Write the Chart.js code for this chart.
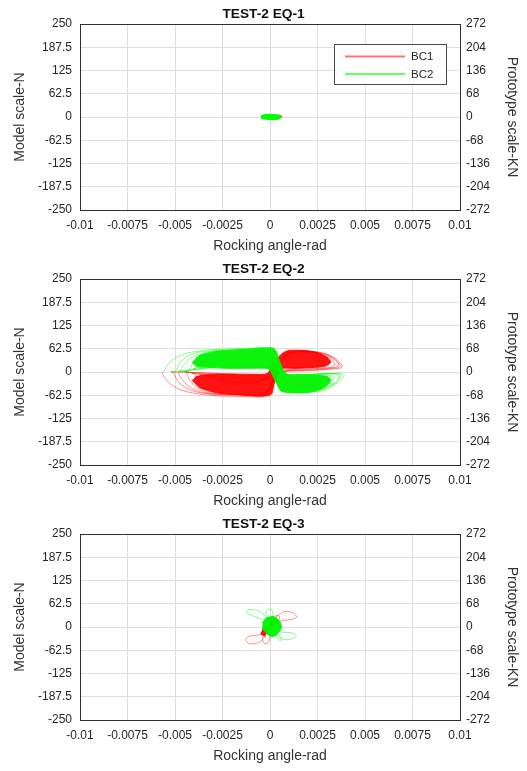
<!DOCTYPE html>
<html>
<head>
<meta charset="utf-8">
<script src="https://cdn.jsdelivr.net/npm/chart.js@4.4.1/dist/chart.umd.min.js"></script>
<style>
  html,body{margin:0;padding:0;background:#fff;}
  #wrap{position:relative;width:527px;height:771px;}
  #wrap canvas{position:absolute;left:0;}
</style>
</head>
<body>
<div id="wrap">
  <canvas id="eq1" width="527" height="255" style="top:0px"></canvas>
  <canvas id="eq2" width="527" height="255" style="top:255px"></canvas>
  <canvas id="eq3" width="527" height="255" style="top:510px"></canvas>
</div>
<script>
// ticks (rocking angle in rad, force in N / KN)
const xTicks = [-0.01, -0.0075, -0.005, -0.0025, 0, 0.0025, 0.005, 0.0075, 0.01];
const xTickLabels = ['-0.01', '-0.0075', '-0.005', '-0.0025', '0', '0.0025', '0.005', '0.0075', '0.01'];
const modelTicks = [-250, -187.5, -125, -62.5, 0, 62.5, 125, 187.5, 250];
const modelTickLabels = ['-250', '-187.5', '-125', '-62.5', '0', '62.5', '125', '187.5', '250'];
const protoTicks = [-272, -204, -136, -68, 0, 68, 136, 204, 272];
const protoTickLabels = ['-272', '-204', '-136', '-68', '0', '68', '136', '204', '272'];
const panelTitles = ['TEST-2 EQ-1', 'TEST-2 EQ-2', 'TEST-2 EQ-3'];
const seriesNames = ['BC1', 'BC2'];

// EQ-1 : tiny loops near the origin
const eq1Bc1 = [[-0.0003,-2],[0.0001,-4],[0.0005,-2],[0.0006,2],[0.0003,4],[-0.0001,2],[-0.0004,0],[0,-3],[0.0004,-3],[0.00058,0],[0.0002,3],[-0.0003,1]];
const eq1Bc2 = [[-0.00045,0],[-0.0003,3],[0,4],[0.0003,3],[0.0005,1],[0.0004,-3],[0.0001,-4],[-0.0002,-3],[-0.0004,-1],[-0.0002,2],[0.0002,3],[0.00048,-1],[0.0002,-3],[-0.0003,-2],[-0.00045,0]];

// EQ-2 : BC1 cycles (one continuous trace) and its dense band
const eq2Bc1Loops = [
  [-0.0057,0],[-0.0054,-25],[-0.0047,-48],[-0.0036,-60],[-0.0022,-65],[-0.0010,-66],[-0.0003,-64],[0.0001,-30],[0.0004,15],[0.0008,48],[0.0016,57],[0.0027,52],[0.0034,38],[0.0038,14],[0.0033,8],[0.0022,4],[0.0010,2],[0.0003,-5],[-0.0003,-18],[-0.0012,-12],[-0.0026,-4],[-0.0042,-1],[-0.0052,0],
  [-0.0051,0],[-0.0048,-28],[-0.0041,-50],[-0.0030,-60],[-0.0018,-62],[-0.0007,-64],[-0.0002,-58],[0.0002,-18],[0.0005,28],[0.0010,52],[0.0018,56],[0.0028,50],[0.0034,34],[0.0037,15],[0.0031,9],[0.0020,5],[0.0009,3],[0.0002,-8],[-0.0004,-22],[-0.0014,-16],[-0.0028,-6],[-0.0042,-1],[-0.0048,0],
  [-0.0044,-33],[-0.0036,-54],[-0.0024,-60],[-0.0012,-62],[-0.0004,-66],[0.0000,-42],[0.0003,0],[0.0007,38],[0.0012,54],[0.0021,55],[0.0030,46],[0.0035,30],[0.0036,16],[0.0029,10],[0.0018,6],[0.0008,2],[0.0001,-10],[-0.0005,-24],[-0.0016,-20],[-0.0030,-8],[-0.0042,-2],
  [-0.0044,-1],[-0.0040,-36],[-0.0032,-56],[-0.0020,-60],[-0.0009,-62],[-0.0002,-60],[0.0002,-20],[0.0005,20],[0.0009,46],[0.0015,55],[0.0024,52],[0.0031,40],[0.0034,24],[0.0033,14],[0.0026,10],[0.0016,8],[0.0007,4],[0.0000,-12],[-0.0006,-26],[-0.0018,-24],[-0.0032,-10],[-0.0041,-4],
  [-0.0040,-3],[-0.0036,-38],[-0.0028,-56],[-0.0017,-60],[-0.0007,-62],[-0.0001,-52],[0.0003,-8],[0.0006,30],[0.0011,50],[0.0018,54],[0.0026,48],[0.0030,34],[0.0031,20],[0.0027,14],[0.0017,11],[0.0008,6],[0.0001,-8],[-0.0005,-26],[-0.0016,-28],[-0.0028,-18],[-0.0037,-8],
  [-0.0036,-6],[-0.0032,-40],[-0.0024,-57],[-0.0013,-60],[-0.0005,-63],[0.0000,-38],[0.0004,8],[0.0008,40],[0.0013,52],[0.0020,52],[0.0026,40],[0.0028,24],[0.0024,16],[0.0014,12],[0.0006,8],[-0.0001,-8],[-0.0008,-28],[-0.0020,-26],[-0.0031,-14],[-0.0036,-6]
];
const eq2Bc1Core = [[-0.0041,-22],[-0.0037,-42],[-0.0028,-56],[-0.0016,-61],[-0.0006,-64],[-0.0001,-64],[0.0001,-58],[0.0002,-35],[0.0004,-10],[0.0006,10],[0.0014,10],[0.0022,12],[0.0029,16],[0.0032,26],[0.0030,40],[0.0025,52],[0.0018,58],[0.0010,58],[0.0007,52],[0.0004,38],[0.0001,15],[-0.0001,-2],[-0.0003,-6],[-0.0012,-6],[-0.0022,-5],[-0.0032,-6],[-0.0039,-12]];

// EQ-2 : BC2 cycles and dense band
const eq2Bc2Loops = [
  [-0.0056,0],[-0.0053,25],[-0.0046,47],[-0.0035,58],[-0.0022,62],[-0.0010,64],[-0.0002,63],[0.0003,30],[0.0007,-20],[0.0011,-50],[0.0020,-55],[0.0030,-45],[0.0036,-27],[0.0039,-8],[0.0034,-4],[0.0022,-6],[0.0011,-9],[0.0005,5],[-0.0001,24],[-0.0012,22],[-0.0026,14],[-0.0042,5],[-0.0052,1],
  [-0.0050,0],[-0.0047,28],[-0.0040,50],[-0.0030,58],[-0.0018,60],[-0.0006,62],[0.0000,58],[0.0004,20],[0.0008,-30],[0.0013,-52],[0.0022,-52],[0.0031,-40],[0.0036,-22],[0.0037,-7],[0.0031,-4],[0.0020,-7],[0.0010,-8],[0.0004,8],[-0.0003,28],[-0.0014,26],[-0.0028,16],[-0.0040,6],[-0.0047,2],
  [-0.0043,32],[-0.0035,52],[-0.0024,58],[-0.0012,61],[-0.0003,65],[0.0002,45],[0.0005,5],[0.0009,-38],[0.0014,-54],[0.0023,-50],[0.0032,-36],[0.0036,-18],[0.0036,-6],[0.0029,-5],[0.0018,-8],[0.0009,-6],[0.0003,12],[-0.0004,30],[-0.0016,29],[-0.0030,18],[-0.0041,8],[-0.0045,3],
  [-0.0043,3],[-0.0039,35],[-0.0031,53],[-0.0020,57],[-0.0009,60],[-0.0001,63],[0.0003,35],[0.0006,-8],[0.0010,-42],[0.0016,-53],[0.0025,-48],[0.0031,-33],[0.0034,-16],[0.0033,-7],[0.0026,-6],[0.0016,-9],[0.0008,-4],[0.0002,15],[-0.0005,32],[-0.0018,30],[-0.0031,20],[-0.0040,10],
  [-0.0040,6],[-0.0036,38],[-0.0028,54],[-0.0017,58],[-0.0007,61],[0.0000,60],[0.0004,22],[0.0007,-22],[0.0011,-46],[0.0018,-52],[0.0026,-44],[0.0031,-28],[0.0032,-12],[0.0028,-8],[0.0018,-10],[0.0009,-7],[0.0003,10],[-0.0003,30],[-0.0015,32],[-0.0027,24],[-0.0037,14],
  [-0.0036,10],[-0.0032,40],[-0.0024,55],[-0.0013,59],[-0.0004,63],[0.0002,48],[0.0005,8],[0.0009,-34],[0.0014,-50],[0.0021,-48],[0.0027,-34],[0.0028,-16],[0.0023,-10],[0.0013,-10],[0.0006,-2],[0.0000,20],[-0.0008,34],[-0.0020,30],[-0.0031,20],[-0.0036,10]
];
const eq2Bc2Core = [[-0.0041,25],[-0.0037,45],[-0.0028,56],[-0.0016,60],[-0.0006,63],[0.0001,65],[0.0003,58],[0.0005,30],[0.0007,5],[0.0009,-7],[0.0015,-7],[0.0023,-8],[0.0030,-12],[0.0032,-22],[0.0030,-36],[0.0026,-48],[0.0020,-55],[0.0012,-56],[0.0006,-52],[0.0004,-36],[0.0002,-15],[0.0000,5],[-0.0002,10],[-0.0012,10],[-0.0022,10],[-0.0032,12],[-0.0039,16]];

// EQ-3 : petals around the origin
const eq3Bc1Loops = [[0,0],[0.0003,10],[0.0007,18],[0.0011,20],[0.0014,27],[0.0012,38],[0.0008,42],[0.0005,34],[0.0002,22],[0.0003,30],[0.0005,28],[0.0004,14],[0.0001,5],[-0.0003,-16],[-0.0007,-22],[-0.0011,-25],[-0.00127,-34],[-0.0011,-44],[-0.0007,-44],[-0.0004,-34],[-0.0002,-22],[-0.0004,-30],[-0.0003,-44],[-0.0001,-42],[0,-25],[-0.0001,-8],[-0.0003,-10],[-0.0001,-20],[-0.0004,-5],[0.0002,5],[-0.0002,-15],[0.0003,15],[-0.0003,-22],[0.0001,-3]];
const eq3Bc1Core = [[-0.0004,-6],[-0.0002,2],[0.0002,6],[0.0004,18],[0.0002,24],[0,10],[-0.0001,-8],[-0.0003,-24],[-0.0005,-18]];
const eq3Bc2Loops = [[0,0],[-0.0003,18],[-0.0007,26],[-0.0011,34],[-0.00125,42],[-0.0011,47],[-0.0007,45],[-0.0004,36],[-0.0001,25],[-0.0002,38],[-0.0001,47],[0.0001,45],[0.00015,32],[0.0001,15],[0.0003,-8],[0.0007,-14],[0.0011,-15],[0.00138,-22],[0.0012,-31],[0.0008,-34],[0.0004,-26],[0.0001,-12],[0.0003,-24],[0.0005,-37],[0.0006,-36],[0.0005,-22],[0.0002,-6],[-0.0003,15],[0.0004,10],[-0.0002,-12],[0.0005,-5],[-0.0003,5],[0.0004,22],[0.0001,-25],[-0.0002,20],[0.0005,14],[0,-18],[0.0003,25],[-0.0004,-2],[0.0006,0],[-0.0001,-20],[0.0002,18],[-0.0003,8],[0.0004,-15],[0.0001,28],[-0.0002,-8],[0.0003,0]];
const eq3Bc2Core = [[-0.0004,10],[-0.0002,24],[0.0002,28],[0.0005,16],[0.0006,0],[0.0004,-18],[0.0001,-26],[-0.0002,-16],[-0.0004,-4]];

const FONT = "'Liberation Sans', Arial, Helvetica, sans-serif";
const INK = '#262626';
const RED = 'rgba(255,0,0,0.55)', RED_CORE = 'rgba(255,0,0,0.92)';
const GREEN = 'rgba(0,255,0,0.6)', GREEN_CORE = 'rgba(0,240,0,0.95)';

const pts = (arr)=> arr.map(([x,y])=>({x, y}));

// box round the plot area, drawn over the data
const framePlugin = {
  id: 'frame',
  afterDraw(chart){
    const {ctx, chartArea:a} = chart;
    ctx.save();
    ctx.strokeStyle = '#2e2e2e'; ctx.lineWidth = 1;
    ctx.strokeRect(Math.round(a.left)+0.5, Math.round(a.top)+0.5, Math.round(a.right-a.left), Math.round(a.bottom-a.top));
    ctx.restore();
  }
};

// legend box inside the plot area, top right
const boxLegend = {
  id: 'boxLegend',
  afterDraw(chart, args, opts){
    if(!opts || !opts.display) return;
    const {ctx, chartArea:a} = chart;
    const items = chart.data.datasets.filter(d=>d.legend).sort((p,q)=>p.label.localeCompare(q.label));
    const w = 112, h = 40;
    const x = a.right - 14 - w, y = a.top + 20;
    ctx.save();
    ctx.fillStyle = '#fff';
    ctx.fillRect(x, y, w, h);
    ctx.strokeStyle = '#4a4a4a'; ctx.lineWidth = 1;
    ctx.strokeRect(Math.round(x)+0.5, Math.round(y)+0.5, w, h);
    ctx.font = '11.5px ' + FONT;
    ctx.textBaseline = 'middle';
    items.forEach((d,i)=>{
      const ly = y + 12.5 + i*17.5;
      ctx.strokeStyle = d.legendColor || d.borderColor; ctx.lineWidth = 2;
      ctx.beginPath(); ctx.moveTo(x+11, ly); ctx.lineTo(x+71, ly); ctx.stroke();
      ctx.fillStyle = INK;
      ctx.fillText(d.label, x+77, ly+0.5);
    });
    ctx.restore();
  }
};

function loopSet(label, data, color, order){
  return { label, legend:true, data: pts(data), showLine:true, borderColor: color, borderWidth: 0.8,
           pointRadius:0, tension:0.35, fill:false, order };
}
function coreSet(label, data, color, order){
  return { label, data: pts(data), showLine:true, borderColor: color, backgroundColor: color, borderWidth: 1,
           pointRadius:0, tension:0.2, fill:'shape', order };
}

function makePanel(id, title, datasets, withLegend){
  return new Chart(document.getElementById(id), {
    type: 'scatter',
    data: { datasets },
    plugins: [framePlugin, boxLegend],
    options: {
      responsive:false, animation:false, devicePixelRatio:1,
      layout:{ padding:0 },
      plugins:{
        legend:{ display:false }, tooltip:{ enabled:false },
        title:{ display:true, text:title, color:'#111', font:{ family:FONT, size:13.7, weight:'bold' }, padding:{ top:5.8, bottom:1.8 } },
        boxLegend:{ display: withLegend }
      },
      scales:{
        x:{
          type:'linear', min:-0.01, max:0.01,
          afterBuildTicks: s=>{ s.ticks = xTicks.map(v=>({value:v})); },
          afterFit: s=>{ s.height = 45; },
          grid:{ color:'#dedede', lineWidth:1, drawTicks:false },
          border:{ display:false },
          ticks:{ autoSkip:false, maxRotation:0, padding:8, color:INK, font:{ family:FONT, size:12 }, callback:(v,i)=>xTickLabels[i] },
          title:{ display:true, text:'Rocking angle-rad', color:'#333', font:{ family:FONT, size:14 }, padding:{ top:0, bottom:0.6 } }
        },
        y:{
          type:'linear', position:'left', min:-250, max:250,
          afterBuildTicks: s=>{ s.ticks = modelTicks.map(v=>({value:v})); },
          afterFit: s=>{ s.width = 80; },
          grid:{ color:'#dedede', lineWidth:1, drawTicks:false },
          border:{ display:false },
          ticks:{ autoSkip:false, padding:8, color:INK, font:{ family:FONT, size:12 }, callback:(v,i)=>modelTickLabels[i] },
          title:{ display:true, text:'Model scale-N', color:'#333', font:{ family:FONT, size:14 }, padding:{ top:11.6, bottom:0 } }
        },
        y2:{
          type:'linear', position:'right', min:-272, max:272,
          afterBuildTicks: s=>{ s.ticks = protoTicks.map(v=>({value:v})); },
          afterFit: s=>{ s.width = 67; },
          grid:{ drawOnChartArea:false, drawTicks:false },
          border:{ display:false },
          ticks:{ autoSkip:false, padding:6, color:INK, font:{ family:FONT, size:12 }, callback:(v,i)=>protoTickLabels[i] },
          title:{ display:true, text:'Prototype scale-KN', color:'#333', font:{ family:FONT, size:14 }, padding:{ top:7.1, bottom:0 } }
        }
      }
    }
  });
}

makePanel('eq1', panelTitles[0], [
  Object.assign(loopSet(seriesNames[1], eq1Bc2, '#00ff00', 0), { borderWidth:3.5, legendColor: GREEN }),
  Object.assign(loopSet(seriesNames[0], eq1Bc1, RED, 2), { borderWidth:2 })
], true);

makePanel('eq2', panelTitles[1], [
  loopSet(seriesNames[1], eq2Bc2Loops, GREEN, 0),
  coreSet(seriesNames[1]+' core', eq2Bc2Core, GREEN_CORE, 1),
  loopSet(seriesNames[0], eq2Bc1Loops, RED, 2),
  coreSet(seriesNames[0]+' core', eq2Bc1Core, RED_CORE, 3)
], false);

makePanel('eq3', panelTitles[2], [
  loopSet(seriesNames[1], eq3Bc2Loops, GREEN, 0),
  coreSet(seriesNames[1]+' core', eq3Bc2Core, GREEN_CORE, 1),
  loopSet(seriesNames[0], eq3Bc1Loops, RED, 2),
  coreSet(seriesNames[0]+' core', eq3Bc1Core, RED_CORE, 3)
], false);
</script>
</body>
</html>
